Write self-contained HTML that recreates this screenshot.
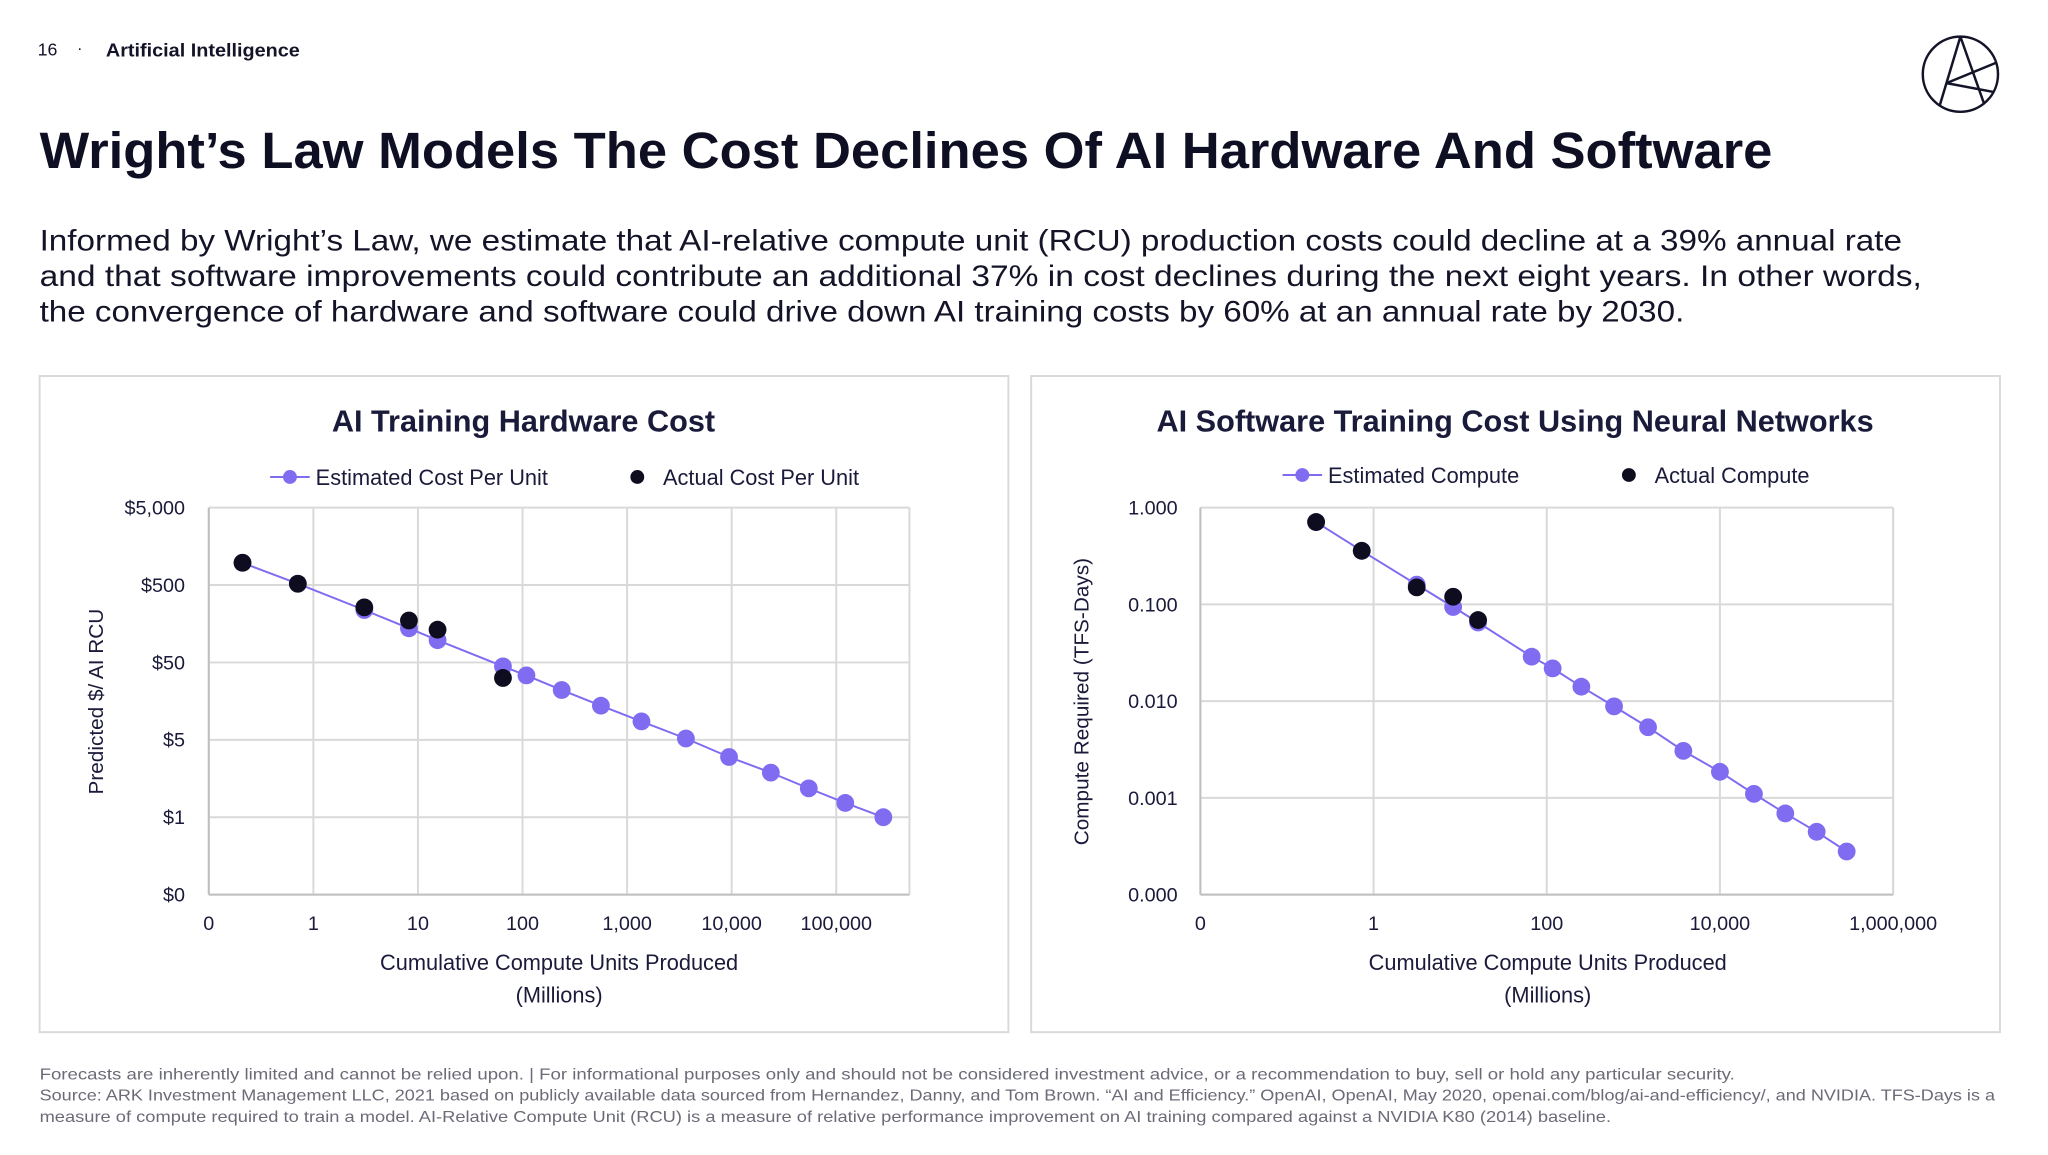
<!DOCTYPE html>
<html><head><meta charset="utf-8"><style>
html,body{margin:0;padding:0;background:#fff;width:2048px;height:1155px;overflow:hidden}
svg text{font-family:"Liberation Sans",sans-serif}
</style></head><body>
<svg id="page" width="2048" height="1155" viewBox="0 0 2048 1155" xmlns="http://www.w3.org/2000/svg">
<g transform="scale(0.9896)">
<text x="38" y="56" font-size="18" fill="#141428">16</text>
<text x="78" y="54" font-size="16" fill="#141428">·</text>
<text x="107" y="57" font-size="19" font-weight="bold" fill="#141428" textLength="196" lengthAdjust="spacingAndGlyphs">Artificial Intelligence</text>
<g fill="none" stroke="#141428" stroke-width="2.5">
<circle cx="1981" cy="75" r="38"/><line x1="1981" y1="37" x2="1960" y2="107"/><line x1="1981" y1="37" x2="2005" y2="105"/><line x1="1967" y1="84" x2="2018" y2="63"/><line x1="1967" y1="84" x2="2015" y2="93"/>
</g>
<text x="40" y="170" font-size="52" font-weight="bold" fill="#0f0f24" textLength="1751" lengthAdjust="spacingAndGlyphs">Wright’s Law Models The Cost Declines Of AI Hardware And Software</text>
<g font-size="30" fill="#141428">
<text x="40" y="253" textLength="1882" lengthAdjust="spacingAndGlyphs">Informed by Wright’s Law, we estimate that AI-relative compute unit (RCU) production costs could decline at a 39% annual rate</text>
<text x="40" y="289" textLength="1902" lengthAdjust="spacingAndGlyphs">and that software improvements could contribute an additional 37% in cost declines during the next eight years. In other words,</text>
<text x="40" y="325" textLength="1662" lengthAdjust="spacingAndGlyphs">the convergence of hardware and software could drive down AI training costs by 60% at an annual rate by 2030.</text>
</g>
<rect x="40" y="380" width="979" height="663" fill="#fff" stroke="#d9d9d9" stroke-width="2"/>
<rect x="1042" y="380" width="979" height="663" fill="#fff" stroke="#d9d9d9" stroke-width="2"/>
<g id="c1"></g><g id="c2"></g>
<g font-size="16" fill="#6b6b78">
<text x="40" y="1091" textLength="1713" lengthAdjust="spacingAndGlyphs">Forecasts are inherently limited and cannot be relied upon. | For informational purposes only and should not be considered investment advice, or a recommendation to buy, sell or hold any particular security.</text>
<text x="40" y="1112" textLength="1976" lengthAdjust="spacingAndGlyphs">Source: ARK Investment Management LLC, 2021 based on publicly available data sourced from Hernandez, Danny, and Tom Brown. “AI and Efficiency.” OpenAI, OpenAI, May 2020, openai.com/blog/ai-and-efficiency/, and NVIDIA. TFS-Days is a</text>
<text x="40" y="1134" textLength="1588" lengthAdjust="spacingAndGlyphs">measure of compute required to train a model. AI-Relative Compute Unit (RCU) is a measure of relative performance improvement on AI training compared against a NVIDIA K80 (2014) baseline.</text>
</g>
</g>
</svg>
<script>
// Hardware chart data
const hwEstX = [0.21, 0.71, 3.07, 8.2, 15.4, 65, 109, 237, 562, 1372, 3650, 9440, 23700, 54600, 122000, 282000];
const hwEstY = [194, 104, 47.6, 27.6, 19.4, 8.9, 6.8, 4.4, 2.76, 1.73, 1.04, 0.60, 0.377, 0.236, 0.153, 0.10];
const hwActX = [0.21, 0.71, 3.07, 8.2, 15.4, 65];
const hwActY = [194, 104, 51.5, 34.8, 26.5, 6.3];
const hwXTicks = [0.1, 1, 10, 100, 1000, 10000, 100000];
const hwXLabels = ["0", "1", "10", "100", "1,000", "10,000", "100,000"];
const hwYTicks = [1000, 100, 10, 1, 0.1, 0.01];
const hwYLabels = ["$5,000", "$500", "$50", "$5", "$1", "$0"];
// Software chart data
const swEstX = [0.217, 0.73, 3.15, 8.3, 16.1, 67, 117, 251, 599, 1479, 3780, 10000, 24700, 56900, 131000, 291000];
const swEstY = [0.71, 0.358, 0.160, 0.094, 0.065, 0.0288, 0.0218, 0.0141, 0.00883, 0.00537, 0.00306, 0.00186, 0.0011, 0.00069, 0.000446, 0.000279];
const swActX = [0.217, 0.73, 3.15, 8.3, 16.1];
const swActY = [0.71, 0.358, 0.150, 0.120, 0.0689];
const swXTicks = [0.01, 1, 100, 10000, 1000000];
const swXLabels = ["0", "1", "100", "10,000", "1,000,000"];
const swYTicks = [1, 0.1, 0.01, 0.001, 0.0001];
const swYLabels = ["1.000", "0.100", "0.010", "0.001", "0.000"];

const NS = "http://www.w3.org/2000/svg";
function mk(parent, tag, attrs, txt){
  const e = document.createElementNS(NS, tag);
  for (const k in attrs) e.setAttribute(k, attrs[k]);
  if (txt !== undefined) e.textContent = txt;
  parent.appendChild(e); return e;
}
const PURPLE = "#7f6cf0", DARK = "#0d0d1f";
function chart(g, o){
  const L=o.l,R=o.r,T=o.t,B=o.b;
  const lx0=Math.log10(o.xmin), lx1=Math.log10(o.xmax), ly0=Math.log10(o.ymin), ly1=Math.log10(o.ymax);
  const sx = v => L + (Math.log10(v)-lx0)/(lx1-lx0)*(R-L);
  const sy = v => B - (Math.log10(v)-ly0)/(ly1-ly0)*(B-T);
  const t = mk(g,"text",{x:o.cx,y:436,"font-size":31,"font-weight":"bold",fill:"#1a1a3a","text-anchor":"middle"},o.title);
  
  
  o.xTicks.forEach((v,i)=>{
    const ln = mk(g,"line",{x1:sx(v),x2:sx(v),y1:T,y2:B,stroke:"#d9d9d9","stroke-width":2});
    
    
    const tx = mk(g,"text",{x:sx(v),y:940,"font-size":20,fill:"#1a1a3a","text-anchor":"middle"},o.xLabels[i]);
    
    
  });
  const rl = mk(g,"line",{x1:R,x2:R,y1:T,y2:B,stroke:"#d9d9d9","stroke-width":2});
  
  
  o.yTicks.forEach((v,i)=>{
    const ln = mk(g,"line",{x1:L,x2:R,y1:sy(v),y2:sy(v),stroke:"#d9d9d9","stroke-width":2});
    
    
    const tx = mk(g,"text",{x:o.ylx,y:sy(v)+7,"font-size":20,fill:"#1a1a3a","text-anchor":"end"},o.yLabels[i]);
    
    
  });
  const ax = mk(g,"line",{x1:L,x2:R,y1:B,y2:B,stroke:"#bfbfbf","stroke-width":2});
  
  
  const ay = mk(g,"line",{x1:L,x2:L,y1:T,y2:B,stroke:"#bfbfbf","stroke-width":2});
  
  
  const yt = mk(g,"text",{x:0,y:0,"font-size":21,fill:"#1a1a3a","text-anchor":"middle",transform:`translate(${o.ytx},709) rotate(-90)`},o.yTitle);
  
  
  const xt1 = mk(g,"text",{x:o.cx2,y:980,"font-size":22,fill:"#1a1a3a","text-anchor":"middle"},"Cumulative Compute Units Produced");
  
  
  const xt2 = mk(g,"text",{x:o.cx2,y:1013,"font-size":22,fill:"#1a1a3a","text-anchor":"middle"},"(Millions)");
  
  
  const pts = o.ex.map((v,i)=>sx(v)+","+sy(o.ey[i])).join(" ");
  const pl = mk(g,"polyline",{points:pts,fill:"none",stroke:PURPLE,"stroke-width":2});
  
  
  o.ex.forEach((v,i)=>{
    const c = mk(g,"circle",{cx:sx(v),cy:sy(o.ey[i]),r:9,fill:PURPLE});
    
    
  });
  o.ax.forEach((v,i)=>{
    const c = mk(g,"circle",{cx:sx(v),cy:sy(o.ay[i]),r:9,fill:DARK});
    
    
  });
  const ll = mk(g,"line",{x1:o.lg1,x2:o.lg1+40,y1:o.lgy,y2:o.lgy,stroke:PURPLE,"stroke-width":2});
  
  
  const lc = mk(g,"circle",{cx:o.lg1+20,cy:o.lgy,r:7,fill:PURPLE});
  
  
  const lt = mk(g,"text",{x:o.lg1+46,y:o.lgy+8,"font-size":22,fill:"#1a1a3a"},o.leg1);
  
  
  const dc = mk(g,"circle",{cx:o.lg2,cy:o.lgy,r:7,fill:DARK});
  
  
  const dt = mk(g,"text",{x:o.lg2+26,y:o.lgy+8,"font-size":22,fill:"#1a1a3a"},o.leg2);
  
  
}
const g1 = document.getElementById("c1");


chart(g1,{l:211,r:919,t:513,b:904,xmin:0.1,xmax:Math.pow(10,5.7),ymin:0.01,ymax:1000,
  xTicks:hwXTicks,xLabels:hwXLabels,yTicks:hwYTicks,yLabels:hwYLabels,
  ex:hwEstX,ey:hwEstY,ax:hwActX,ay:hwActY,title:"AI Training Hardware Cost",cx:529,cx2:565,
  yTitle:"Predicted $/ AI RCU",ytx:104,ylx:187,lg1:273,lg2:644,lgy:482,
  leg1:"Estimated Cost Per Unit",leg2:"Actual Cost Per Unit"});
const g2 = document.getElementById("c2");


chart(g2,{l:1213,r:1913,t:513,b:904,xmin:0.01,xmax:1000000,ymin:0.0001,ymax:1,
  xTicks:swXTicks,xLabels:swXLabels,yTicks:swYTicks,yLabels:swYLabels,
  ex:swEstX,ey:swEstY,ax:swActX,ay:swActY,title:"AI Software Training Cost Using Neural Networks",cx:1531,cx2:1564,
  yTitle:"Compute Required (TFS-Days)",ytx:1100,ylx:1190,lg1:1296,lg2:1646,lgy:480,
  leg1:"Estimated Compute",leg2:"Actual Compute"});
</script>
</body></html>
